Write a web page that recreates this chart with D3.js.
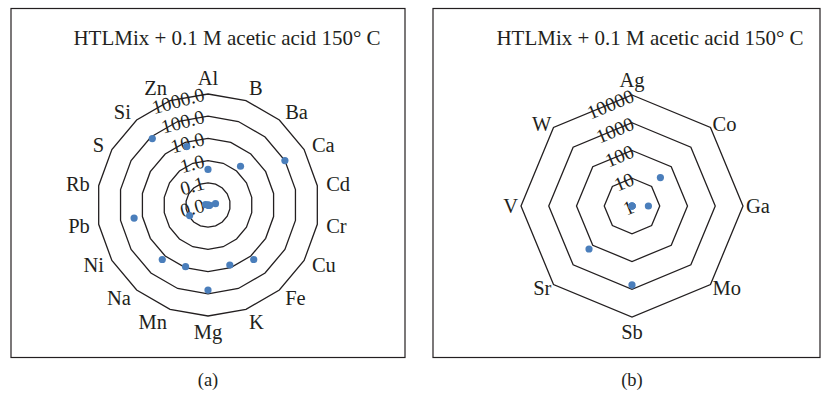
<!DOCTYPE html>
<html>
<head>
<meta charset="utf-8">
<script src="https://cdn.jsdelivr.net/npm/d3@7"></script>
<style>
  body { margin: 0; background: #fff; }
  svg text { font-family: "Liberation Serif", "DejaVu Serif", serif; fill: #231f20; }
</style>
</head>
<body>
<svg id="chart" width="821" height="396"></svg>
<script>
// panel (a) data
var elementsA = ["Al","B","Ba","Ca","Cd","Cr","Cu","Fe","K","Mg","Mn","Na","Ni","Pb","Rb","S","Si","Zn"];
var valuesA   = [0.4, 0.01, 1.9, 100, 0.022, 0.012, 0.011, 16, 7.5, 68, 9, 16, 0.09, 24, 0.013, 0.01, 80, 6.3];
var ticksA    = [0.01, 0.1, 1, 10, 100, 1000];
var tickLabelsA = ["0.0","0.1","1.0","10.0","100.0","1000.0"];

// panel (b) data
var elementsB = ["Ag","Co","Ga","Mo","Sb","Sr","V","W"];
var valuesB   = [1, 28, 3.9, 1, 700, 155, 1, 1];
var ticksB    = [1, 10, 100, 1000, 10000];
var tickLabelsB = ["1","10","100","1000","10000"];

var title = "HTLMix + 0.1 M acetic acid 150° C";

var svg = d3.select("#chart");

/**
 * Draws one radar panel with log radial scale
 */
function radar(opt){
    var g = svg.append("g");

    // frame
    g.append("rect")
        .attr("x", opt.box[0]).attr("y", opt.box[1])
        .attr("width", opt.box[2]).attr("height", opt.box[3])
        .attr("fill", "none").attr("stroke", "#231f20").attr("stroke-width", 1.2);

    g.append("text")
        .attr("x", opt.titleX).attr("y", 45)
        .attr("text-anchor", "middle")
        .style("font-size", "21px")
        .text(title);

    g.append("text")
        .attr("x", opt.cx).attr("y", 386)
        .attr("text-anchor", "middle")
        .style("font-size", "18.5px")
        .text(opt.caption);

    var n = opt.cats.length;
    var r = d3.scaleLog().domain([opt.ticks[0], opt.ticks[opt.ticks.length-1]]).range([0, opt.radius]);
    var ang = function(i){ return i * 2 * Math.PI / n; };
    var pt = function(i, rad){ return [opt.cx + rad*Math.sin(ang(i)), opt.cy - rad*Math.cos(ang(i))]; };

    // rings
    opt.ticks.forEach(function(t){
        var rad = r(t);
        if (rad <= 0) return;
        var pts = d3.range(n).map(function(i){ return pt(i, rad); });
        g.append("path")
            .attr("d", "M" + pts.join("L") + "Z")
            .attr("fill", "none")
            .attr("stroke", "#231f20")
            .attr("stroke-width", 1.3);
    });

    // ring labels
    opt.ticks.forEach(function(t, k){
        var y = opt.cy - r(t);
        g.append("text")
            .attr("text-anchor", "end")
            .attr("dominant-baseline", "central")
            .attr("transform", "translate(" + (opt.cx + opt.lblDx) + "," + y + ") rotate(" + opt.lblRot + ")")
            .style("font-size", "19.5px")
            .text(opt.tickLabels[k]);
    });

    // category labels
    opt.cats.forEach(function(c, i){
        var s = Math.sin(ang(i)), co = Math.cos(ang(i));
        var x = opt.cx + opt.catR * s;
        var y = opt.cy - (opt.catR + opt.catK * Math.pow(Math.abs(co), 6)) * co;
        g.append("text")
            .attr("x", x).attr("y", y)
            .attr("text-anchor", s > 0.1 ? "start" : (s < -0.1 ? "end" : "middle"))
            .attr("dominant-baseline", "central")
            .style("font-size", "20.5px")
            .text(c);
    });

    // points
    g.selectAll("circle.pt")
        .data(opt.values)
        .enter().append("circle")
        .attr("class", "pt")
        .attr("cx", function(d, i){ return pt(i, r(Math.max(d, opt.ticks[0])))[0]; })
        .attr("cy", function(d, i){ return pt(i, r(Math.max(d, opt.ticks[0])))[1]; })
        .attr("r", 3.6)
        .attr("fill", "#4a7ebb");
}

svg.append("rect").attr("width", 821).attr("height", 396).attr("fill", "#fff");

radar({
    box: [11, 8.5, 394, 349], cx: 208, cy: 205, radius: 111, titleX: 227, caption: "(a)",
    cats: elementsA, values: valuesA, ticks: ticksA, tickLabels: tickLabelsA,
    lblDx: -4, lblRot: -15, catR: 120, catK: 7
});

radar({
    box: [433, 8.5, 387, 349], cx: 632, cy: 206, radius: 111, titleX: 650, caption: "(b)",
    cats: elementsB, values: valuesB, ticks: ticksB, tickLabels: tickLabelsB,
    lblDx: 1, lblRot: -22.5, catR: 114, catK: 12
});
</script>
</body>
</html>
